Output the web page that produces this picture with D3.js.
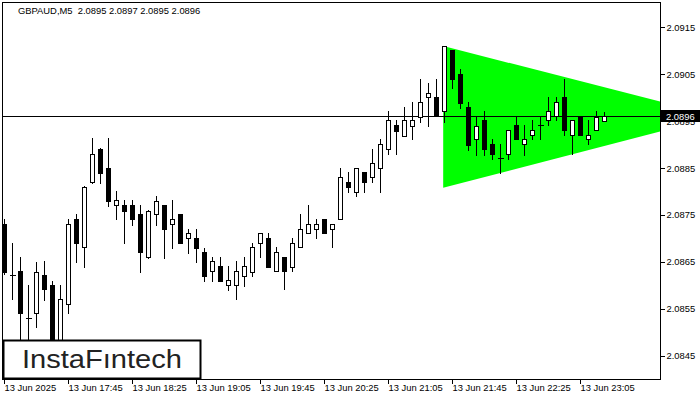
<!DOCTYPE html>
<html>
<head>
<meta charset="utf-8">
<script src="https://cdn.jsdelivr.net/npm/d3@7"></script>
<style>
  html, body { margin: 0; padding: 0; background: #fff; }
  svg { display: block; }
  text { font-family: "Liberation Sans", Arial, sans-serif; }
</style>
</head>
<body>
<svg id="chart" width="700" height="400"></svg>
<script>
// ---- data ----
const symbolTitle = "GBPAUD,M5  2.0895 2.0897 2.0895 2.0896";
const openP = [2.08731,2.08622,2.08630,2.08530,2.08541,2.08622,2.08601,2.08462,2.08560,2.08741,
2.08682,2.08820,2.08890,2.08850,2.08771,2.08771,2.08771,2.08752,2.08660,2.08752,
2.08771,2.08731,2.08752,2.08701,2.08701,2.08671,2.08630,2.08641,2.08601,2.08601,
2.08620,2.08628,2.08690,2.08701,2.08630,2.08660,2.08639,2.08682,2.08711,2.08721,
2.08741,2.08721,2.08741,2.08820,2.08799,2.08842,2.08831,2.08850,2.08890,2.08942,
2.08918,2.08940,2.08959,2.09001,2.09001,2.08972,2.09102,2.09050,2.08980,2.08912,
2.08952,2.08901,2.08871,2.08879,2.08942,2.08901,2.08920,2.08942,2.08952,2.08961,
2.09001,2.08920,2.08961,2.08912,2.08931,2.08950];
const highP = [2.08741,2.08690,2.08660,2.08601,2.08650,2.08652,2.08609,2.08601,2.08741,2.08752,
2.08812,2.08914,2.08893,2.08914,2.08801,2.08782,2.08782,2.08771,2.08760,2.08790,
2.08771,2.08782,2.08752,2.08721,2.08721,2.08679,2.08660,2.08660,2.08641,2.08652,
2.08660,2.08690,2.08711,2.08711,2.08682,2.08660,2.08701,2.08752,2.08771,2.08741,
2.08741,2.08731,2.08850,2.08842,2.08850,2.08842,2.08890,2.08912,2.08972,2.08952,
2.08980,2.08991,2.09040,2.09031,2.09040,2.09110,2.09102,2.09061,2.08991,2.08961,
2.08972,2.08912,2.08901,2.08931,2.08961,2.08942,2.08952,2.08961,2.09001,2.09001,
2.09040,2.08952,2.08961,2.08952,2.08972,2.08970];
const lowP = [2.08624,2.08571,2.08473,2.08462,2.08511,2.08569,2.08430,2.08441,2.08541,2.08650,
2.08639,2.08818,2.08818,2.08769,2.08741,2.08690,2.08728,2.08628,2.08658,2.08728,
2.08658,2.08679,2.08690,2.08669,2.08650,2.08609,2.08609,2.08609,2.08590,2.08571,
2.08598,2.08620,2.08660,2.08639,2.08630,2.08592,2.08630,2.08682,2.08711,2.08701,
2.08711,2.08682,2.08741,2.08799,2.08790,2.08799,2.08820,2.08799,2.08879,2.08879,
2.08918,2.08912,2.08948,2.08940,2.08961,2.08948,2.09021,2.08978,2.08888,2.08877,
2.08877,2.08869,2.08839,2.08869,2.08912,2.08877,2.08912,2.08912,2.08942,2.08952,
2.08920,2.08879,2.08920,2.08901,2.08931,2.08950];
const closeP = [2.08628,2.08622,2.08541,2.08530,2.08628,2.08592,2.08451,2.08571,2.08731,2.08690,
2.08810,2.08879,2.08839,2.08780,2.08782,2.08758,2.08741,2.08671,2.08758,2.08780,
2.08721,2.08741,2.08690,2.08711,2.08679,2.08620,2.08652,2.08609,2.08612,2.08630,
2.08641,2.08682,2.08711,2.08639,2.08671,2.08630,2.08690,2.08721,2.08731,2.08731,
2.08711,2.08731,2.08831,2.08810,2.08850,2.08820,2.08861,2.08901,2.08952,2.08929,
2.08952,2.08952,2.08991,2.09009,2.08961,2.09110,2.09040,2.08989,2.08899,2.08940,
2.08890,2.08879,2.08871,2.08931,2.08912,2.08912,2.08931,2.08942,2.08972,2.08991,
2.08931,2.08952,2.08920,2.08920,2.08959,2.08960];
const timeTickIdx = [0, 8, 16, 24, 32, 40, 48, 56, 64, 72];
const timeTickLabels = ["13 Jun 2025","13 Jun 17:45","13 Jun 18:25","13 Jun 19:05","13 Jun 19:45",
  "13 Jun 20:25","13 Jun 21:05","13 Jun 21:45","13 Jun 22:25","13 Jun 23:05"];
const priceTicks = [2.0845, 2.0855, 2.0865, 2.0875, 2.0885, 2.0895, 2.0905, 2.0915];
const currentPrice = 2.0896;
// triangle (bar index, price)
const triIdx = [54.9, 54.9, 89.3];
const triPrice = [2.09110, 2.08808, 2.08960];
const logoText = "InstaF\u0131ntech";

// ---- layout ----
const svg = d3.select("#chart");
const L = 2.5, R = 660.5, T = 2.5, B = 379.5;
const x = d3.scaleLinear().domain([0, 75]).range([4, 604]);
const y = d3.scaleLinear().domain([2.0845, 2.0915]).range([355.6, 27.3]);
const px = i => Math.round(x(i)) + 0.5;

svg.append("defs").append("clipPath").attr("id", "plotclip")
  .append("rect").attr("x", L).attr("y", T).attr("width", R - L).attr("height", B - T);

const plot = svg.append("g").attr("clip-path", "url(#plotclip)");

// triangle
const triPts = triIdx.map((d, i) => [x(d), y(triPrice[i])]);
plot.append("polygon")
  .attr("points", triPts.map(p => p.join(",")).join(" "))
  .attr("fill", "#00ff00");

// current price line
const yCur = Math.round(y(currentPrice)) + 0.5;
plot.append("line").attr("x1", L).attr("x2", R).attr("y1", yCur).attr("y2", yCur)
  .attr("stroke", "#000").attr("stroke-width", 1);

// candles
const idx = d3.range(openP.length);
const cg = plot.append("g").attr("shape-rendering", "crispEdges");
idx.forEach(i => {
  const cx = px(i);
  const g = cg.append("g");
  g.append("line").attr("x1", cx).attr("x2", cx)
    .attr("y1", Math.round(y(highP[i]))).attr("y2", Math.round(y(lowP[i])) + 1)
    .attr("stroke", "#000");
  const yo = Math.round(y(openP[i])), yc = Math.round(y(closeP[i]));
  const top = Math.min(yo, yc), bot = Math.max(yo, yc);
  if (bot - top < 1) {
    g.append("line").attr("x1", cx - 3).attr("x2", cx + 3)
      .attr("y1", top + 0.5).attr("y2", top + 0.5).attr("stroke", "#000");
  } else {
    g.append("rect").attr("x", cx - 2).attr("y", top + 0.5)
      .attr("width", 4).attr("height", bot - top)
      .attr("fill", closeP[i] < openP[i] ? "#000" : "#fff")
      .attr("stroke", "#000").attr("stroke-width", 1);
  }
});

// frame
svg.append("rect").attr("x", L).attr("y", T).attr("width", R - L).attr("height", B - T)
  .attr("fill", "none").attr("stroke", "#000").attr("stroke-width", 1)
  .attr("shape-rendering", "crispEdges");

// right axis
const yAxis = d3.axisRight(y).tickValues(priceTicks).tickSize(4).tickPadding(2)
  .tickFormat(d3.format(".4f"));
const ya = svg.append("g").attr("transform", `translate(${R},0)`).call(yAxis);
ya.select(".domain").remove();
ya.selectAll("text").attr("font-size", "9.4px").attr("fill", "#000")
  .attr("font-family", "Liberation Sans, Arial, sans-serif");
ya.selectAll("line").attr("stroke", "#000").attr("shape-rendering", "crispEdges");

// current price label
svg.append("rect").attr("x", 661).attr("y", yCur - 6.5).attr("width", 39).attr("height", 12)
  .attr("fill", "#000");
svg.append("text").attr("x", 666).attr("y", yCur).attr("dy", "0.34em")
  .attr("font-size", "9.4px").attr("fill", "#fff").text(d3.format(".4f")(currentPrice));

// bottom axis
const xAxis = d3.axisBottom(x).tickValues(timeTickIdx).tickSize(4).tickPadding(1)
  .tickFormat((d, i) => timeTickLabels[i]);
const xa = svg.append("g").attr("transform", `translate(0,${B})`).call(xAxis);
xa.select(".domain").remove();
xa.selectAll(".tick").attr("transform", d => `translate(${px(d)},0)`);
xa.selectAll("text").attr("text-anchor", "start").attr("x", 0)
  .attr("font-size", "9.4px").attr("fill", "#000")
  .attr("font-family", "Liberation Sans, Arial, sans-serif");
xa.selectAll("line").attr("stroke", "#000").attr("shape-rendering", "crispEdges");

// title
svg.append("text").attr("x", 18).attr("y", 14).attr("font-size", "9.4px")
  .attr("fill", "#000").style("white-space", "pre").text(symbolTitle);

// logo
svg.append("rect").attr("x", 3.5).attr("y", 340.5).attr("width", 197).attr("height", 38)
  .attr("fill", "#fff").attr("stroke", "#000").attr("stroke-width", 2);
svg.append("text").attr("x", 22).attr("y", 368).attr("font-size", "25px")
  .attr("font-family", "Lato, 'Open Sans', sans-serif").attr("fill", "#222")
  .attr("textLength", 160).attr("lengthAdjust", "spacingAndGlyphs")
  .text(logoText);
</script>
</body>
</html>
